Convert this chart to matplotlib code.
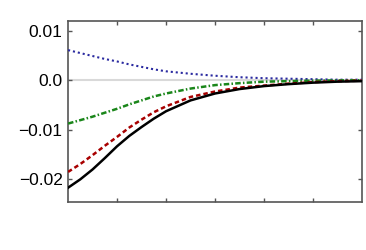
import matplotlib
matplotlib.use("Agg")
import matplotlib.pyplot as plt

# valeurs
x = [0, 0.25, 0.5, 0.75, 1, 1.25, 1.5, 1.75, 2, 2.5, 3, 3.5, 4, 4.5, 5, 5.5, 6]
black = [-0.0218, -0.0201, -0.0181, -0.0158, -0.0134, -0.0113, -0.0095, -0.0078, -0.0063,
         -0.0041, -0.0027, -0.0018, -0.0012, -0.0008, -0.0005, -0.0003, -0.0002]
red = [-0.0186, -0.0170, -0.0152, -0.0133, -0.0115, -0.0096, -0.0080, -0.0065, -0.0053,
       -0.0034, -0.0023, -0.0015, -0.0011, -0.0007, -0.0004, -0.0002, -0.0001]
green = [-0.0088, -0.0081, -0.0074, -0.0066, -0.0058, -0.0049, -0.0041, -0.0033, -0.0027,
         -0.0017, -0.0010, -0.0006, -0.0003, -0.0002, -0.0001, -0.00005, 0.0]
blue = [0.0061, 0.0055, 0.0049, 0.0043, 0.0038, 0.0032, 0.0027, 0.0022, 0.0018,
        0.0013, 0.0009, 0.0006, 0.0004, 0.0003, 0.0002, 0.0001, 0.0001]
yticks = [-0.02, -0.01, 0.0, 0.01]
yticklabels = ['\u22120.02', '\u22120.01', '0.0', '0.01']

plt.rcParams['font.family'] = ['Liberation Sans', 'DejaVu Sans']

fig = plt.figure(figsize=(3.66, 2.5), dpi=100)
ax = fig.add_axes([0.186, 0.192, 0.803, 0.724])

ax.axhline(0, color='#d9d9d9', lw=1.5, zorder=1)
ax.plot(x, blue, color='#2a2aa0', lw=1.5, linestyle=(0, (1, 1.4)), zorder=3)
ax.plot(x, green, color='#1a861a', lw=1.8, linestyle=(0, (2.2, 0.9, 0.6, 0.9)), zorder=3)
ax.plot(x, red, color='#a80000', lw=1.8, linestyle=(0, (1.8, 1.2)), zorder=3)
ax.plot(x, black, color='black', lw=1.8, zorder=4)

ax.set_xlim(0, 6)
ax.set_ylim(-0.0247, 0.0120)
ax.set_xticks([1, 2, 3, 4, 5])
ax.set_xticklabels([])
ax.set_yticks(yticks)
ax.set_yticklabels(yticklabels)
ax.tick_params(direction='in', top=True, right=True, length=3, width=1,
               color='#555555', labelsize=12.5, pad=4)
for s in ax.spines.values():
    s.set_color('#555555')
    s.set_linewidth(1.2)

fig.savefig('out.png', dpi=100)
